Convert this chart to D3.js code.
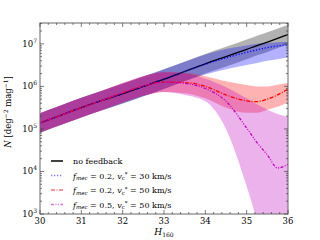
<!DOCTYPE html>
<html>
<head>
<meta charset="utf-8">
<script src="https://cdn.jsdelivr.net/npm/d3@7"></script>
<style>
  body { margin: 0; background: #fff; }
  svg { display: block; font-family: "DejaVu Serif", "Liberation Serif", serif; }
</style>
</head>
<body>
<div id="chart"></div>
<script>
// magnitude grid (H160)
const mags = [30, 30.5, 31, 31.5, 32, 32.5, 33, 33.5, 34, 34.5, 35, 35.25, 35.5, 35.75, 36];

// log10 N values
const noFbLine = [5.14, 5.32, 5.50, 5.67, 5.83, 6.00, 6.17, 6.35, 6.53, 6.70, 6.87, 6.96, 7.04, 7.13, 7.22];
const noFbLo   = [4.91, 5.09, 5.27, 5.44, 5.60, 5.77, 5.94, 6.12, 6.30, 6.47, 6.64, 6.73, 6.81, 6.90, 6.99];
const noFbHi   = [5.37, 5.55, 5.73, 5.90, 6.06, 6.23, 6.40, 6.58, 6.76, 6.93, 7.10, 7.19, 7.27, 7.36, 7.45];

const m02v30Line = [5.14, 5.32, 5.50, 5.67, 5.83, 6.00, 6.17, 6.35, 6.52, 6.67, 6.80, 6.86, 6.91, 6.95, 6.98];
const m02v30Lo   = [4.91, 5.09, 5.27, 5.44, 5.60, 5.77, 5.94, 6.12, 6.28, 6.40, 6.50, 6.55, 6.60, 6.64, 6.68];
const m02v30Hi   = [5.37, 5.55, 5.73, 5.90, 6.06, 6.23, 6.40, 6.58, 6.75, 6.88, 6.96, 7.00, 7.02, 7.04, 7.05];

const m02v50Line = [5.14, 5.32, 5.50, 5.67, 5.85, 6.01, 6.10, 6.09, 6.00, 5.80, 5.66, 5.64, 5.70, 5.80, 5.94];
const m02v50Lo   = [4.91, 5.09, 5.27, 5.44, 5.62, 5.78, 5.87, 5.84, 5.72, 5.50, 5.38, 5.38, 5.45, 5.52, 5.62];
const m02v50Hi   = [5.37, 5.55, 5.73, 5.90, 6.08, 6.24, 6.33, 6.32, 6.24, 6.12, 6.03, 6.00, 6.00, 6.04, 6.08];

const m05v50Line = [5.14, 5.32, 5.50, 5.67, 5.85, 6.01, 6.10, 6.07, 5.95, 5.65, 5.02, 4.68, 4.39, 4.08, 4.17];
const m05v50Lo   = [4.91, 5.09, 5.27, 5.44, 5.62, 5.78, 5.87, 5.80, 5.65, 5.00, 3.65, 2.85, 2.00, 2.00, 2.00];
const m05v50Hi   = [5.37, 5.55, 5.73, 5.90, 6.08, 6.24, 6.33, 6.30, 6.18, 5.98, 5.72, 5.58, 5.45, 5.35, 5.28];

const xTicks = [30, 31, 32, 33, 34, 35, 36];
const yTickExps = [3, 4, 5, 6, 7];

// series styles
const series = [
    {line: noFbLine, lo: noFbLo, hi: noFbHi, color: '#000000', fill: 'rgba(0,0,0,0.3)', dash: null},
    {line: m02v30Line, lo: m02v30Lo, hi: m02v30Hi, color: '#0000ff', fill: 'rgba(0,0,255,0.3)', dash: '1.2,1.8'},
    {line: m02v50Line, lo: m02v50Lo, hi: m02v50Hi, color: '#ff0000', fill: 'rgba(255,0,0,0.3)', dash: '4,1.5,1,1.5'},
    {line: m05v50Line, lo: m05v50Lo, hi: m05v50Hi, color: '#bf00bf', fill: 'rgba(191,0,191,0.3)', dash: '3,1.5,1,1.5,1,1.5'}
];

const W = 320, H = 240;
const margin = {top: 23, right: 32, bottom: 26, left: 40};
const width = W - margin.left - margin.right;
const height = H - margin.top - margin.bottom;

const x = d3.scaleLinear().domain([30, 36]).range([0, width]);
const y = d3.scaleLinear().domain([3, 7.49]).range([height, 0]);

const svg = d3.select('#chart').append('svg').attr('width', W).attr('height', H);
const g = svg.append('g').attr('transform', `translate(${margin.left}, ${margin.top})`);

g.append('clipPath').attr('id', 'clip')
    .append('rect').attr('width', width).attr('height', height);
const plot = g.append('g').attr('clip-path', 'url(#clip)');

// bands first, then lines on top
series.forEach(s => {
    const area = d3.area()
        .x((d, i) => x(mags[i]))
        .y0((d, i) => y(s.lo[i]))
        .y1((d, i) => y(s.hi[i]))
        .curve(d3.curveMonotoneX);
    plot.append('path').datum(s.line).attr('d', area).style('fill', s.fill);
});
series.forEach(s => {
    const line = d3.line()
        .x((d, i) => x(mags[i]))
        .y(d => y(d))
        .curve(d3.curveMonotoneX);
    plot.append('path').datum(s.line).attr('d', line)
        .style('fill', 'none').style('stroke', s.color).style('stroke-width', 1.3)
        .style('stroke-dasharray', s.dash);
});

// frame
g.append('rect').attr('width', width).attr('height', height)
    .style('fill', 'none').style('stroke', '#666').style('stroke-width', 1);

// ticks (inward, all four sides)
const tickColor = '#444';
const xMinor = d3.range(30, 36.001, 0.2);
xMinor.forEach(v => {
    const major = Math.abs(v - Math.round(v)) < 1e-6;
    const len = major ? 4 : 2;
    g.append('line').attr('x1', x(v)).attr('x2', x(v)).attr('y1', height).attr('y2', height - len)
        .style('stroke', tickColor).style('stroke-width', 0.7);
    g.append('line').attr('x1', x(v)).attr('x2', x(v)).attr('y1', 0).attr('y2', len)
        .style('stroke', tickColor).style('stroke-width', 0.7);
});
const yMinor = [];
[3, 4, 5, 6, 7].forEach(e => { for (let k = 1; k < 10; k++) yMinor.push([e + Math.log10(k), k === 1]); });
yMinor.filter(d => d[0] <= 7.49).forEach(([v, major]) => {
    const len = major ? 4 : 2;
    g.append('line').attr('x1', 0).attr('x2', len).attr('y1', y(v)).attr('y2', y(v))
        .style('stroke', tickColor).style('stroke-width', 0.7);
    g.append('line').attr('x1', width).attr('x2', width - len).attr('y1', y(v)).attr('y2', y(v))
        .style('stroke', tickColor).style('stroke-width', 0.7);
});

// tick labels
g.selectAll('.xlab').data(xTicks).enter().append('text')
    .attr('x', d => x(d)).attr('y', height + 10)
    .attr('text-anchor', 'middle').style('font-size', '8.5px').text(d => d);
const ylab = g.selectAll('.ylab').data(yTickExps).enter().append('text')
    .attr('x', -3).attr('y', d => y(d) + 3)
    .attr('text-anchor', 'end').style('font-size', '8.5px');
ylab.append('tspan').text('10');
ylab.append('tspan').attr('dy', -4).style('font-size', '6px').text(d => d);

// axis titles
const xt = g.append('text').attr('x', width / 2).attr('y', height + 21)
    .attr('text-anchor', 'middle').style('font-size', '9px');
xt.append('tspan').style('font-style', 'italic').text('H');
xt.append('tspan').attr('dy', 2).style('font-size', '6px').text('160');

const yt = svg.append('text')
    .attr('transform', `translate(11, ${margin.top + y(5.4)}) rotate(-90)`)
    .attr('text-anchor', 'middle').style('font-size', '8.5px');
yt.append('tspan').style('font-style', 'italic').text('N');
yt.append('tspan').text(' [deg');
yt.append('tspan').attr('dy', -3).style('font-size', '6px').text('\u22122');
yt.append('tspan').attr('dy', 3).text(' mag');
yt.append('tspan').attr('dy', -3).style('font-size', '6px').text('\u22121');
yt.append('tspan').attr('dy', 3).text(']');

// legend
const legendRows = [
    {s: series[0], label: null},
    {s: series[1], mec: '0.2', vc: '30'},
    {s: series[2], mec: '0.2', vc: '50'},
    {s: series[3], mec: '0.5', vc: '50'}
];
const legend = g.append('g').attr('transform', 'translate(11, 138)');
legendRows.forEach((r, i) => {
    const yy = i * 14.5;
    legend.append('line').attr('x1', 0).attr('x2', 12).attr('y1', yy).attr('y2', yy)
        .style('stroke', r.s.color).style('stroke-width', 1.5)
        .style('stroke-dasharray', r.s.dash).style('opacity', i === 0 ? 1 : 0.55);
    const t = legend.append('text').attr('x', 22).attr('y', yy + 3).style('font-size', '8px');
    if (i === 0) { t.text('no feedback'); return; }
    t.append('tspan').style('font-style', 'italic').text('f');
    t.append('tspan').attr('dy', 1.5).style('font-size', '5.5px').style('font-style', 'italic').text('mec');
    t.append('tspan').attr('dy', -1.5).text(` = ${r.mec}, `);
    t.append('tspan').style('font-style', 'italic').text('v');
    t.append('tspan').attr('dy', 1.5).style('font-size', '5.5px').text('c');
    t.append('tspan').attr('dy', -4).style('font-size', '5.5px').text('*');
    t.append('tspan').attr('dy', 2.5).text(` = ${r.vc} km/s`);
});
</script>
</body>
</html>
